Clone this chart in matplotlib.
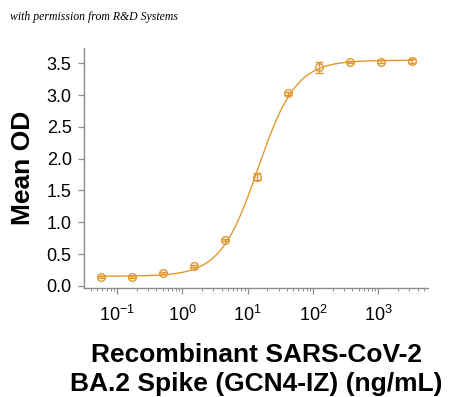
import numpy as np
import matplotlib
matplotlib.use("Agg")
import matplotlib.pyplot as plt
from matplotlib.ticker import LogLocator, MultipleLocator, NullFormatter

plt.rcParams['font.family'] = ['Liberation Sans', 'DejaVu Sans']
plt.rcParams['mathtext.default'] = 'regular'
plt.rcParams['axes.unicode_minus'] = False

# data
conc = [0.0564, 0.169, 0.508, 1.52, 4.57, 13.7, 41.2, 123.5, 370.4, 1111.0, 3333.0]
mean_od = [0.14, 0.14, 0.20, 0.31, 0.72, 1.72, 3.03, 3.44, 3.52, 3.53, 3.54]
sd = [0.01, 0.01, 0.01, 0.02, 0.02, 0.06, 0.02, 0.09, 0.02, 0.03, 0.03]

# four-parameter logistic fit parameters
fit_bottom = 0.15
fit_top = 3.55
fit_ec50 = 14.5
fit_hill = 1.5

color = '#E2982E'
grey = '#8c8c8c'

fig = plt.figure(figsize=(4.5, 3.97), dpi=100)
ax = fig.add_axes([0.187, 0.2746, 0.764, 0.604])

xs = np.logspace(np.log10(conc[0]), np.log10(conc[-1]), 400)
ys = fit_bottom + (fit_top - fit_bottom) / (1 + (fit_ec50 / xs) ** fit_hill)
ax.plot(xs, ys, color=color, lw=1.0)
ax.errorbar(conc, mean_od, yerr=sd, fmt='o', ms=5.5, mfc='none', mec=color,
            mew=1.0, ecolor=color, elinewidth=1.0, capsize=3, capthick=1.0)

ax.set_xscale('log')
ax.set_xlim(0.0316, 5750)
ax.set_ylim(-0.035, 3.74)
ax.yaxis.set_major_locator(MultipleLocator(0.5))
ax.yaxis.set_major_formatter(plt.FuncFormatter(lambda v, p: f'{v:.1f}'))
ax.xaxis.set_major_locator(LogLocator(base=10, numticks=10))
ax.xaxis.set_minor_locator(LogLocator(base=10, subs=np.arange(2, 10), numticks=20))
ax.xaxis.set_minor_formatter(NullFormatter())

for s in ['top', 'right']:
    ax.spines[s].set_visible(False)
for s in ['left', 'bottom']:
    ax.spines[s].set_color(grey)
    ax.spines[s].set_linewidth(1.0)

ax.tick_params(axis='both', which='major', direction='out', length=4, width=0.9,
               color=grey, labelsize=13, pad=5)
ax.tick_params(axis='x', which='major', pad=8)
ax.tick_params(axis='x', which='minor', direction='out', length=2.5, width=0.7, color=grey)

ax.set_ylabel('Mean OD', fontsize=19, fontweight='bold', labelpad=8)
ax.set_xlabel('Recombinant SARS-CoV-2\nBA.2 Spike (GCN4-IZ) (ng/mL)', fontsize=19,
              fontweight='bold', labelpad=13, linespacing=1.25)

fig.text(0.022, 0.957, 'with permission from R&D Systems', fontsize=8.5,
         family='Liberation Serif', style='italic', ha='left', va='center')

fig.savefig('out.png', dpi=100)
